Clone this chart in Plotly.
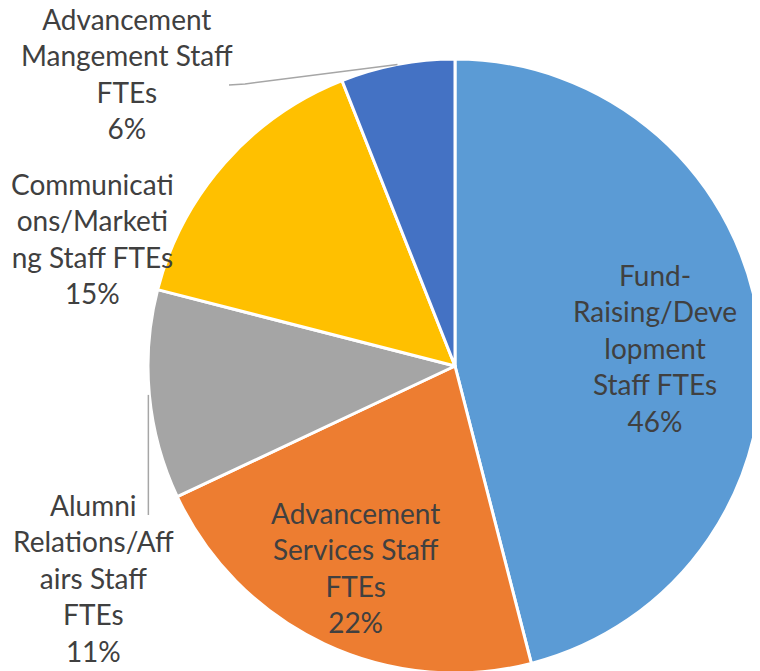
import math
import plotly.graph_objects as go

W, H = 760, 671
OFF = 8  # page body margin, so figure pixels = screen pixels - 8

# data (clockwise from 12 o'clock)
labels = ["Fund-Raising/Development Staff FTEs",
          "Advancement Services Staff FTEs",
          "Alumni Relations/Affairs Staff FTEs",
          "Communications/Marketing Staff FTEs",
          "Advancement Mangement Staff FTEs"]
values = [46, 22, 11, 15, 6]
colors = ["#5B9BD5", "#ED7D31", "#A5A5A5", "#FFC000", "#4472C4"]

# wrapped text as shown on the chart
label_text = ["Fund-<br>Raising/Deve<br>lopment<br>Staff FTEs",
              "Advancement<br>Services Staff<br>FTEs",
              "Alumni<br>Relations/Aff<br>airs Staff<br>FTEs",
              "Communicati<br>ons/Marketi<br>ng Staff FTEs",
              "Advancement<br>Mangement Staff<br>FTEs"]
label_pos = [(655, 348), (355, 567), (93, 578), (92, 238), (127, 73)]

# pie placement (screen pixels)
cx, cy, r = 455 - OFF, 366 - OFF, 307
dom_x = [(cx - r) / W, (cx + r) / W]
dom_y = [1 - (cy + r) / H, 1 - (cy - r) / H]

fig = go.Figure()
fig.add_trace(go.Pie(
    labels=labels, values=values, sort=False, direction="clockwise", rotation=0,
    marker=dict(colors=colors, line=dict(color="white", width=3)),
    textinfo="none", hoverinfo="label+percent", showlegend=False,
    domain=dict(x=dom_x, y=dom_y),
))


def paper(px, py):
    return (px - OFF) / W, 1 - (py - OFF) / H


total = sum(values)
for txt, v, (px, py) in zip(label_text, values, label_pos):
    x, y = paper(px, py)
    fig.add_annotation(
        x=x, y=y, xref="paper", yref="paper",
        text=f"{txt}<br>{round(100 * v / total)}%", showarrow=False,
        xanchor="center", yanchor="middle",
        font=dict(family="Lato", size=28, color="#404040"),
    )


def edge_point(i):
    # middle of slice i on the rim, in screen pixels
    start = sum(values[:i]) / total
    a = (start + values[i] / total / 2) * 2 * math.pi
    return cx + OFF + r * math.sin(a), cy + OFF - r * math.cos(a)


# leader lines
ex, ey = edge_point(4)
pts = [paper(229, 85), paper(245, 84), paper(ex, ey)]
fig.add_shape(type="path", xref="paper", yref="paper",
              path="M {} {} L {} {} L {} {}".format(*[c for p in pts for c in p]),
              line=dict(color="#A6A6A6", width=1.5))
ex, ey = edge_point(2)
pts = [paper(ex - 1, ey), paper(ex - 1, 515)]
fig.add_shape(type="path", xref="paper", yref="paper",
              path="M {} {} L {} {}".format(*[c for p in pts for c in p]),
              line=dict(color="#A6A6A6", width=1.5))

fig.update_layout(width=W, height=H, margin=dict(l=0, r=0, t=0, b=0),
                  paper_bgcolor="white", plot_bgcolor="white")
fig.write_html("out.html")
